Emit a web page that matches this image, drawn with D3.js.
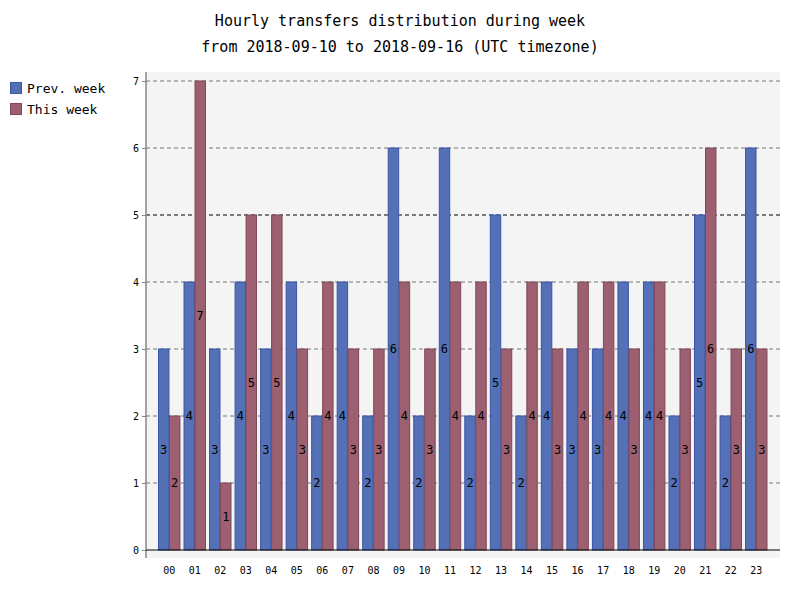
<!DOCTYPE html>
<html><head><meta charset="utf-8">
<script src="https://cdn.jsdelivr.net/npm/d3@7/dist/d3.min.js"></script>
<style>body{margin:0;background:#fff}</style></head>
<body><svg id="c" width="800" height="600"></svg>
<script>
const hours = ["00","01","02","03","04","05","06","07","08","09","10","11","12","13","14","15","16","17","18","19","20","21","22","23"];
const prevWeek = [3,4,3,4,3,4,2,4,2,6,2,6,2,5,2,4,3,3,4,4,2,5,2,6];
const thisWeek = [2,7,1,5,5,3,4,3,3,4,3,4,4,3,4,3,4,4,3,4,3,6,3,3];
const yTicks = [0,1,2,3,4,5,6,7];
const seriesNames = ["Prev. week","This week"];
const mean = 5;

const svg = d3.select("#c");
const font = "DejaVu Sans Mono";
const L=146,R=780,T=72,B=550;
const y = d3.scaleLinear().domain([0,7]).range([B,81]);
const x = d3.scaleBand().domain(hours).range([158.5,767]).paddingInner(0.16).paddingOuter(0);
const xs = d3.scaleBand().domain([0,1]).range([0,x.bandwidth()]).paddingInner(0.05);
const fills=["#5470b6","#9c6070"], strokes=["#3a55a5","#7f4858"];

svg.append("rect").attr("x",L).attr("y",T).attr("width",R-L).attr("height",558-T).attr("fill","#f4f4f4");
yTicks.forEach(t=>{
  if(t===0) return;
  svg.append("line").attr("x1",L).attr("x2",R).attr("y1",y(t)).attr("y2",y(t))
    .attr("stroke",t===mean?"#000":"#777").attr("stroke-dasharray","4,3").attr("stroke-width",1);
});
const ya = svg.append("g").attr("transform",`translate(${L},0)`).call(d3.axisLeft(y).tickValues(yTicks).tickSize(4).tickFormat(d3.format("d")));
ya.select(".domain").remove();
ya.selectAll("line").attr("stroke","#888");
ya.selectAll("text").attr("font-family",font).attr("font-size",10).attr("fill","#000");
svg.append("line").attr("x1",L).attr("x2",L).attr("y1",T).attr("y2",558).attr("stroke","#888").attr("stroke-width",1.5);

[prevWeek,thisWeek].forEach((vals,s)=>{
  const g=svg.append("g");
  g.selectAll("rect").data(vals).join("rect")
    .attr("x",(d,i)=>x(hours[i])+xs(s)).attr("width",xs.bandwidth())
    .attr("y",d=>y(d)).attr("height",d=>B-y(d))
    .attr("fill",fills[s]).attr("stroke",strokes[s]).attr("stroke-width",1);
  g.selectAll("text").data(vals).join("text")
    .attr("x",(d,i)=>x(hours[i])+xs(s)+xs.bandwidth()/2).attr("y",d=>y(d/2)+4)
    .attr("text-anchor","middle").attr("font-family",font).attr("font-size",12).text(d=>d);
});
svg.append("line").attr("x1",L).attr("x2",R).attr("y1",B).attr("y2",B).attr("stroke","#000");

const xa = svg.append("g").attr("transform",`translate(0,${B})`).call(d3.axisBottom(x).tickSize(0).tickPadding(17));
xa.select(".domain").remove();
xa.selectAll("text").attr("font-family",font).attr("font-size",10).attr("fill","#000");

svg.append("text").attr("x",400).attr("y",26).attr("text-anchor","middle").attr("font-family",font).attr("font-size",15).text("Hourly transfers distribution during week");
svg.append("text").attr("x",400).attr("y",52).attr("text-anchor","middle").attr("font-family",font).attr("font-size",15).text("from 2018-09-10 to 2018-09-16 (UTC timezone)");

seriesNames.forEach((n,i)=>{
  svg.append("rect").attr("x",10.5).attr("y",82.5+i*21).attr("width",11).attr("height",11).attr("fill",fills[i]).attr("stroke",strokes[i]);
  svg.append("text").attr("x",27).attr("y",93+i*21).attr("font-family",font).attr("font-size",13).text(n);
});
</script></body></html>
